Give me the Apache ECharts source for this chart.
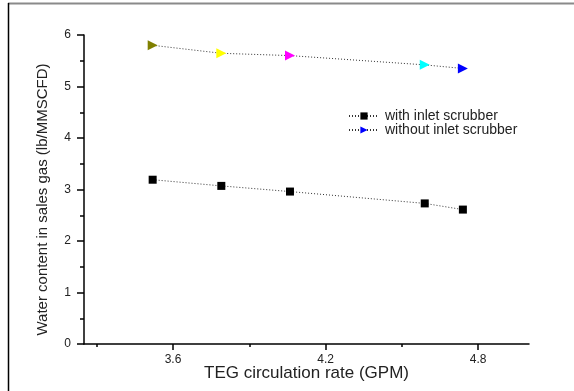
<!DOCTYPE html>
<html>
<head>
<meta charset="utf-8">
<script src="https://cdn.jsdelivr.net/npm/echarts@6/dist/echarts.min.js"></script>
<style>
html,body{margin:0;padding:0;background:#fff;}
#chart{width:574px;height:391px;}
</style>
</head>
<body>
<div id="chart"></div>
<script>
// ---- data ----
var seriesNames = ['with inlet scrubber', 'without inlet scrubber'];
var tegRate = [3.52, 3.79, 4.06, 4.59, 4.74];
var withScrubber = [3.19, 3.07, 2.96, 2.73, 2.61];
var withoutScrubber = [5.80, 5.645, 5.60, 5.42, 5.35];
var xLabelTicks = [3.6, 4.2, 4.8];
var xMinorTicks = [3.3, 3.9, 4.5];

// ---- styles ----
var pointColors = ['#808000', '#ffff00', '#ff00ff', '#00ffff', '#0000ff'];
var FONT = 'Liberation Sans, Arial, sans-serif';
var triPath = 'path://M0,0 L10,5 L0,10 Z';

var chart = echarts.init(document.getElementById('chart'), null, {renderer: 'canvas'});

function pairs(xs, ys) { return xs.map(function (x, i) { return [x, ys[i]]; }); }

var option = {
  animation: false,
  backgroundColor: '#fff',
  grid: {left: 84, right: 45, top: 35, bottom: 47, containLabel: false},
  graphic: [
    {type: 'line', shape: {x1: 8, y1: 3.5, x2: 574, y2: 3.5}, style: {stroke: '#8a8a8a', lineWidth: 2}},
    {type: 'line', shape: {x1: 8.5, y1: 3, x2: 8.5, y2: 391}, style: {stroke: '#000', lineWidth: 1.5}}
  ],
  xAxis: [{
    type: 'value', min: 3.25, max: 5.0,
    name: 'TEG circulation rate (GPM)', nameLocation: 'middle', nameGap: 21, nameMoveOverlap: false,
    nameTextStyle: {fontFamily: FONT, fontSize: 17, color: '#222'},
    axisLine: {show: true, onZero: false, lineStyle: {color: '#000', width: 1.5}},
    axisTick: {show: true, customValues: xLabelTicks, length: 6, lineStyle: {color: '#000', width: 1.5}},
    axisLabel: {customValues: xLabelTicks, margin: 10, fontFamily: FONT, fontSize: 12, color: '#222',
      formatter: function (v) { return v.toFixed(1); }},
    splitLine: {show: false}
  }, {
    type: 'value', min: 3.25, max: 5.0, position: 'bottom',
    axisLine: {show: false},
    axisTick: {show: true, customValues: xMinorTicks, length: 3, lineStyle: {color: '#000', width: 1.5}},
    axisLabel: {show: false},
    splitLine: {show: false}
  }],
  yAxis: {
    type: 'value', min: 0, max: 6, interval: 1,
    name: 'Water content in sales gas (lb/MMSCFD)', nameLocation: 'middle', nameGap: 34,
    nameTextStyle: {fontFamily: FONT, fontSize: 15, color: '#222', padding: [0, 20, 0, 0]},
    axisLine: {show: true, lineStyle: {color: '#000', width: 1.5}},
    axisTick: {show: true, length: 7, lineStyle: {color: '#000', width: 1.5}},
    minorTick: {show: true, splitNumber: 2, length: 4, lineStyle: {color: '#000', width: 1.5}},
    axisLabel: {margin: 13, fontFamily: FONT, fontSize: 12, color: '#222'},
    splitLine: {show: false}
  },
  legend: {
    orient: 'vertical', left: 348, top: 109, itemGap: 0, padding: 0,
    itemWidth: 30, itemHeight: 9,
    textStyle: {fontFamily: FONT, fontSize: 14, color: '#222', padding: [0, 0, 0, 1]},
    data: seriesNames
  },
  series: [{
    name: seriesNames[0], type: 'line', xAxisIndex: 0,
    data: pairs(tegRate, withScrubber),
    symbol: 'rect', symbolSize: 8,
    itemStyle: {color: '#000'},
    lineStyle: {color: '#333', width: 1, type: [1, 2]}
  }, {
    name: seriesNames[1], type: 'line', xAxisIndex: 0,
    data: pairs(tegRate, withoutScrubber).map(function (p, i) {
      return {value: p, itemStyle: {color: pointColors[i]}};
    }),
    symbol: triPath, symbolSize: [10, 10],
    itemStyle: {color: '#0000ff'},
    lineStyle: {color: '#333', width: 1, type: [1, 2]}
  }]
};
chart.setOption(option);
</script>
</body>
</html>
